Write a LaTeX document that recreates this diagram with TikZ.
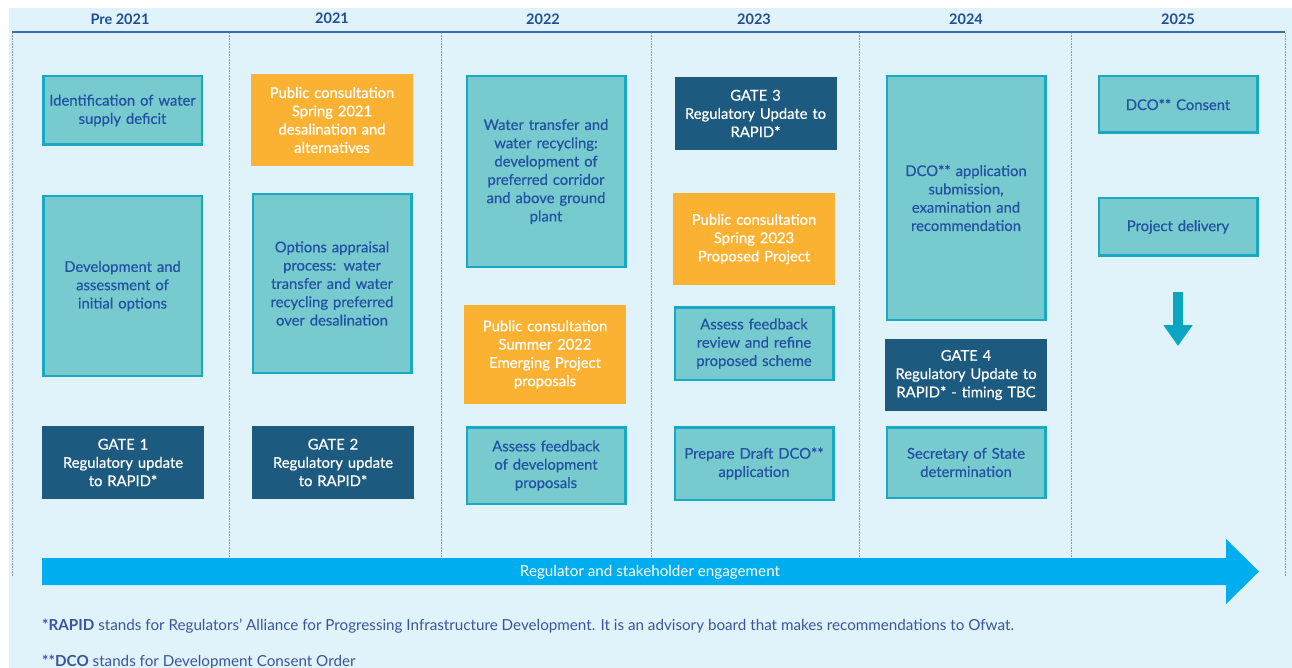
\documentclass[tikz,border=0pt]{standalone}
\usepackage{fontspec}
\setmainfont{Lato}
\newfontfamily\latomedium{Lato}[FakeBold=0.6]
\usepackage{xcolor}
\usepackage{tikz}
\usetikzlibrary{arrows.meta, positioning}

\definecolor{pagebg}{HTML}{E0F2FA}
\definecolor{yeartext}{HTML}{1F4E96}
\definecolor{yearrule}{HTML}{3A6DB0}
\definecolor{boxfill}{HTML}{77CBCF}
\definecolor{boxedge}{HTML}{19A9C4}
\definecolor{boxtext}{HTML}{2352A2}
\definecolor{gatefill}{HTML}{1D5A80}
\definecolor{consultfill}{HTML}{FBB131}
\definecolor{engagefill}{HTML}{00AEEF}
\definecolor{downfill}{HTML}{0AA5C0}
\definecolor{notetext}{HTML}{3A55A0}
\definecolor{sepline}{HTML}{8A9AA8}

\newcommand{\phasefont}{\latomedium\fontsize{14.8}{18.3}\selectfont}
\newcommand{\yearfont}{\fontsize{14.5}{16}\selectfont\bfseries}
\newcommand{\notefont}{\fontsize{15.2}{17}\selectfont}

\begin{document}
\begin{tikzpicture}[x=1pt, y=-1pt]
        \tikzstyle{phase} = [rectangle, draw=boxedge, line width=2.5pt, fill=boxfill, text=boxtext, text width=156pt, text centered, minimum width=158.5pt, inner sep=0pt, font=\phasefont]
        \tikzstyle{gate} = [rectangle, fill=gatefill, text=white, text width=158pt, text centered, minimum width=162pt, inner sep=0pt, font=\phasefont]
        \tikzstyle{consult} = [rectangle, fill=consultfill, text=white, text width=158pt, text centered, minimum width=162pt, inner sep=0pt, font=\phasefont]
        \tikzstyle{year} = [text=yeartext, font=\yearfont]
        \tikzstyle{divider} = [draw=sepline, densely dotted, line width=0.6pt]
        \tikzstyle{note} = [anchor=west, text=notetext, font=\notefont, inner sep=0pt]

        \useasboundingbox (0,0) rectangle (1292,668);
        \fill[pagebg] (9,8) rectangle (1292,668);

        % Years
        \node [year] (pre) at (120,19) {Pre 2021};
        \node [year] (y21) at (332,18) {2021};
        \node [year] (y22) at (543,19) {2022};
        \node [year] (y23) at (754,19) {2023};
        \node [year] (y24) at (966,19) {2024};
        \node [year] (y25) at (1178,19) {2025};
        \draw [yearrule, line width=1.5pt] (12,32) -- (1285,32);

        % Column dividers
        \draw [divider] (12,33) -- (12,577);
        \draw [divider] (229,33) -- (229,577);
        \draw [divider] (441,33) -- (441,577);
        \draw [divider] (651,33) -- (651,577);
        \draw [divider] (859,33) -- (859,577);
        \draw [divider] (1071,33) -- (1071,577);
        \draw [divider] (1285,33) -- (1285,577);

        % Nodes
        \node [phase, minimum height=68.5pt] (deficit) at (122.5,110.5) {Identification of water \\ supply deficit};
        \node [phase, minimum height=179.5pt] (initial) at (122.5,286) {Development and \\ assessment of \\ initial options};
        \node [gate, minimum height=73pt] (gate1) at (123,462.5) {GATE 1 \\ Regulatory update \\ to RAPID*};

        \node [consult, minimum height=92pt] (spring21) at (332,120) {Public consultation \\ Spring 2021 \\ desalination and \\ alternatives};
        \node [phase, minimum height=178.5pt] (appraisal) at (332,283.5) {Options appraisal \\ process: water \\ transfer and water \\ recycling preferred \\ over desalination};
        \node [gate, minimum height=73pt] (gate2) at (333,462.5) {GATE 2 \\ Regulatory update \\ to RAPID*};

        \node [phase, minimum height=190.5pt] (corridor) at (546,171.5) {Water transfer and \\ water recycling: \\ development of \\ preferred corridor \\ and above ground \\ plant};
        \node [consult, minimum height=99pt] (summer22) at (545,354.5) {Public consultation \\ Summer 2022 \\ Emerging Project \\ proposals};
        \node [phase, minimum height=76.5pt] (feedback22) at (546,465.5) {Assess feedback \\ of development \\ proposals};

        \node [gate, minimum height=73pt] (gate3) at (755.5,113.5) {GATE 3 \\ Regulatory Update to \\ RAPID*};
        \node [consult, minimum height=92pt] (spring23) at (754,239) {Public consultation \\ Spring 2023 \\ Proposed Project};
        \node [phase, minimum height=72.5pt] (refine) at (754,343.5) {Assess feedback \\ review and refine \\ proposed scheme};
        \node [phase, minimum height=72.5pt] (draft) at (754,463.5) {Prepare Draft DCO** \\ application};

        \node [phase, minimum height=243.5pt] (submission) at (966,198) {DCO** application \\ submission, \\ examination and \\ recommendation};
        \node [gate, minimum height=72pt] (gate4) at (966,375) {GATE 4 \\ Regulatory Update to \\ RAPID* - timing TBC};
        \node [phase, minimum height=70.5pt] (state) at (966,462.5) {Secretary of State \\ determination};

        \node [phase, minimum height=56.5pt] (consent) at (1178,104.5) {DCO** Consent};
        \node [phase, minimum height=57.5pt] (delivery) at (1178,227) {Project delivery};

        % Down arrow
        \coordinate (downtop) at (1178,292);
        \coordinate (downtip) at (1178,346);
        \draw [downfill, line width=10pt, -{Triangle[width=28pt, length=21pt]}] (downtop) -- (downtip);

        % Engagement arrow
        \fill [engagefill] (42,558) -- (1226,558) -- (1226,539) -- (1259,571.5) -- (1226,604) -- (1226,585) -- (42,585) -- cycle;
        \node [text=white, font=\notefont] (engage) at (650,572) {Regulator and stakeholder engagement};

        % Notes
        \node [note] (rapidnote) at (42,626) {\textbf{*RAPID} stands for Regulators' Alliance for Progressing Infrastructure Development. It is an advisory board that makes recommendations to Ofwat.};
        \node [note] (dconote) at (42,662) {\textbf{**DCO} stands for Development Consent Order};
    \end{tikzpicture}
\end{document}
